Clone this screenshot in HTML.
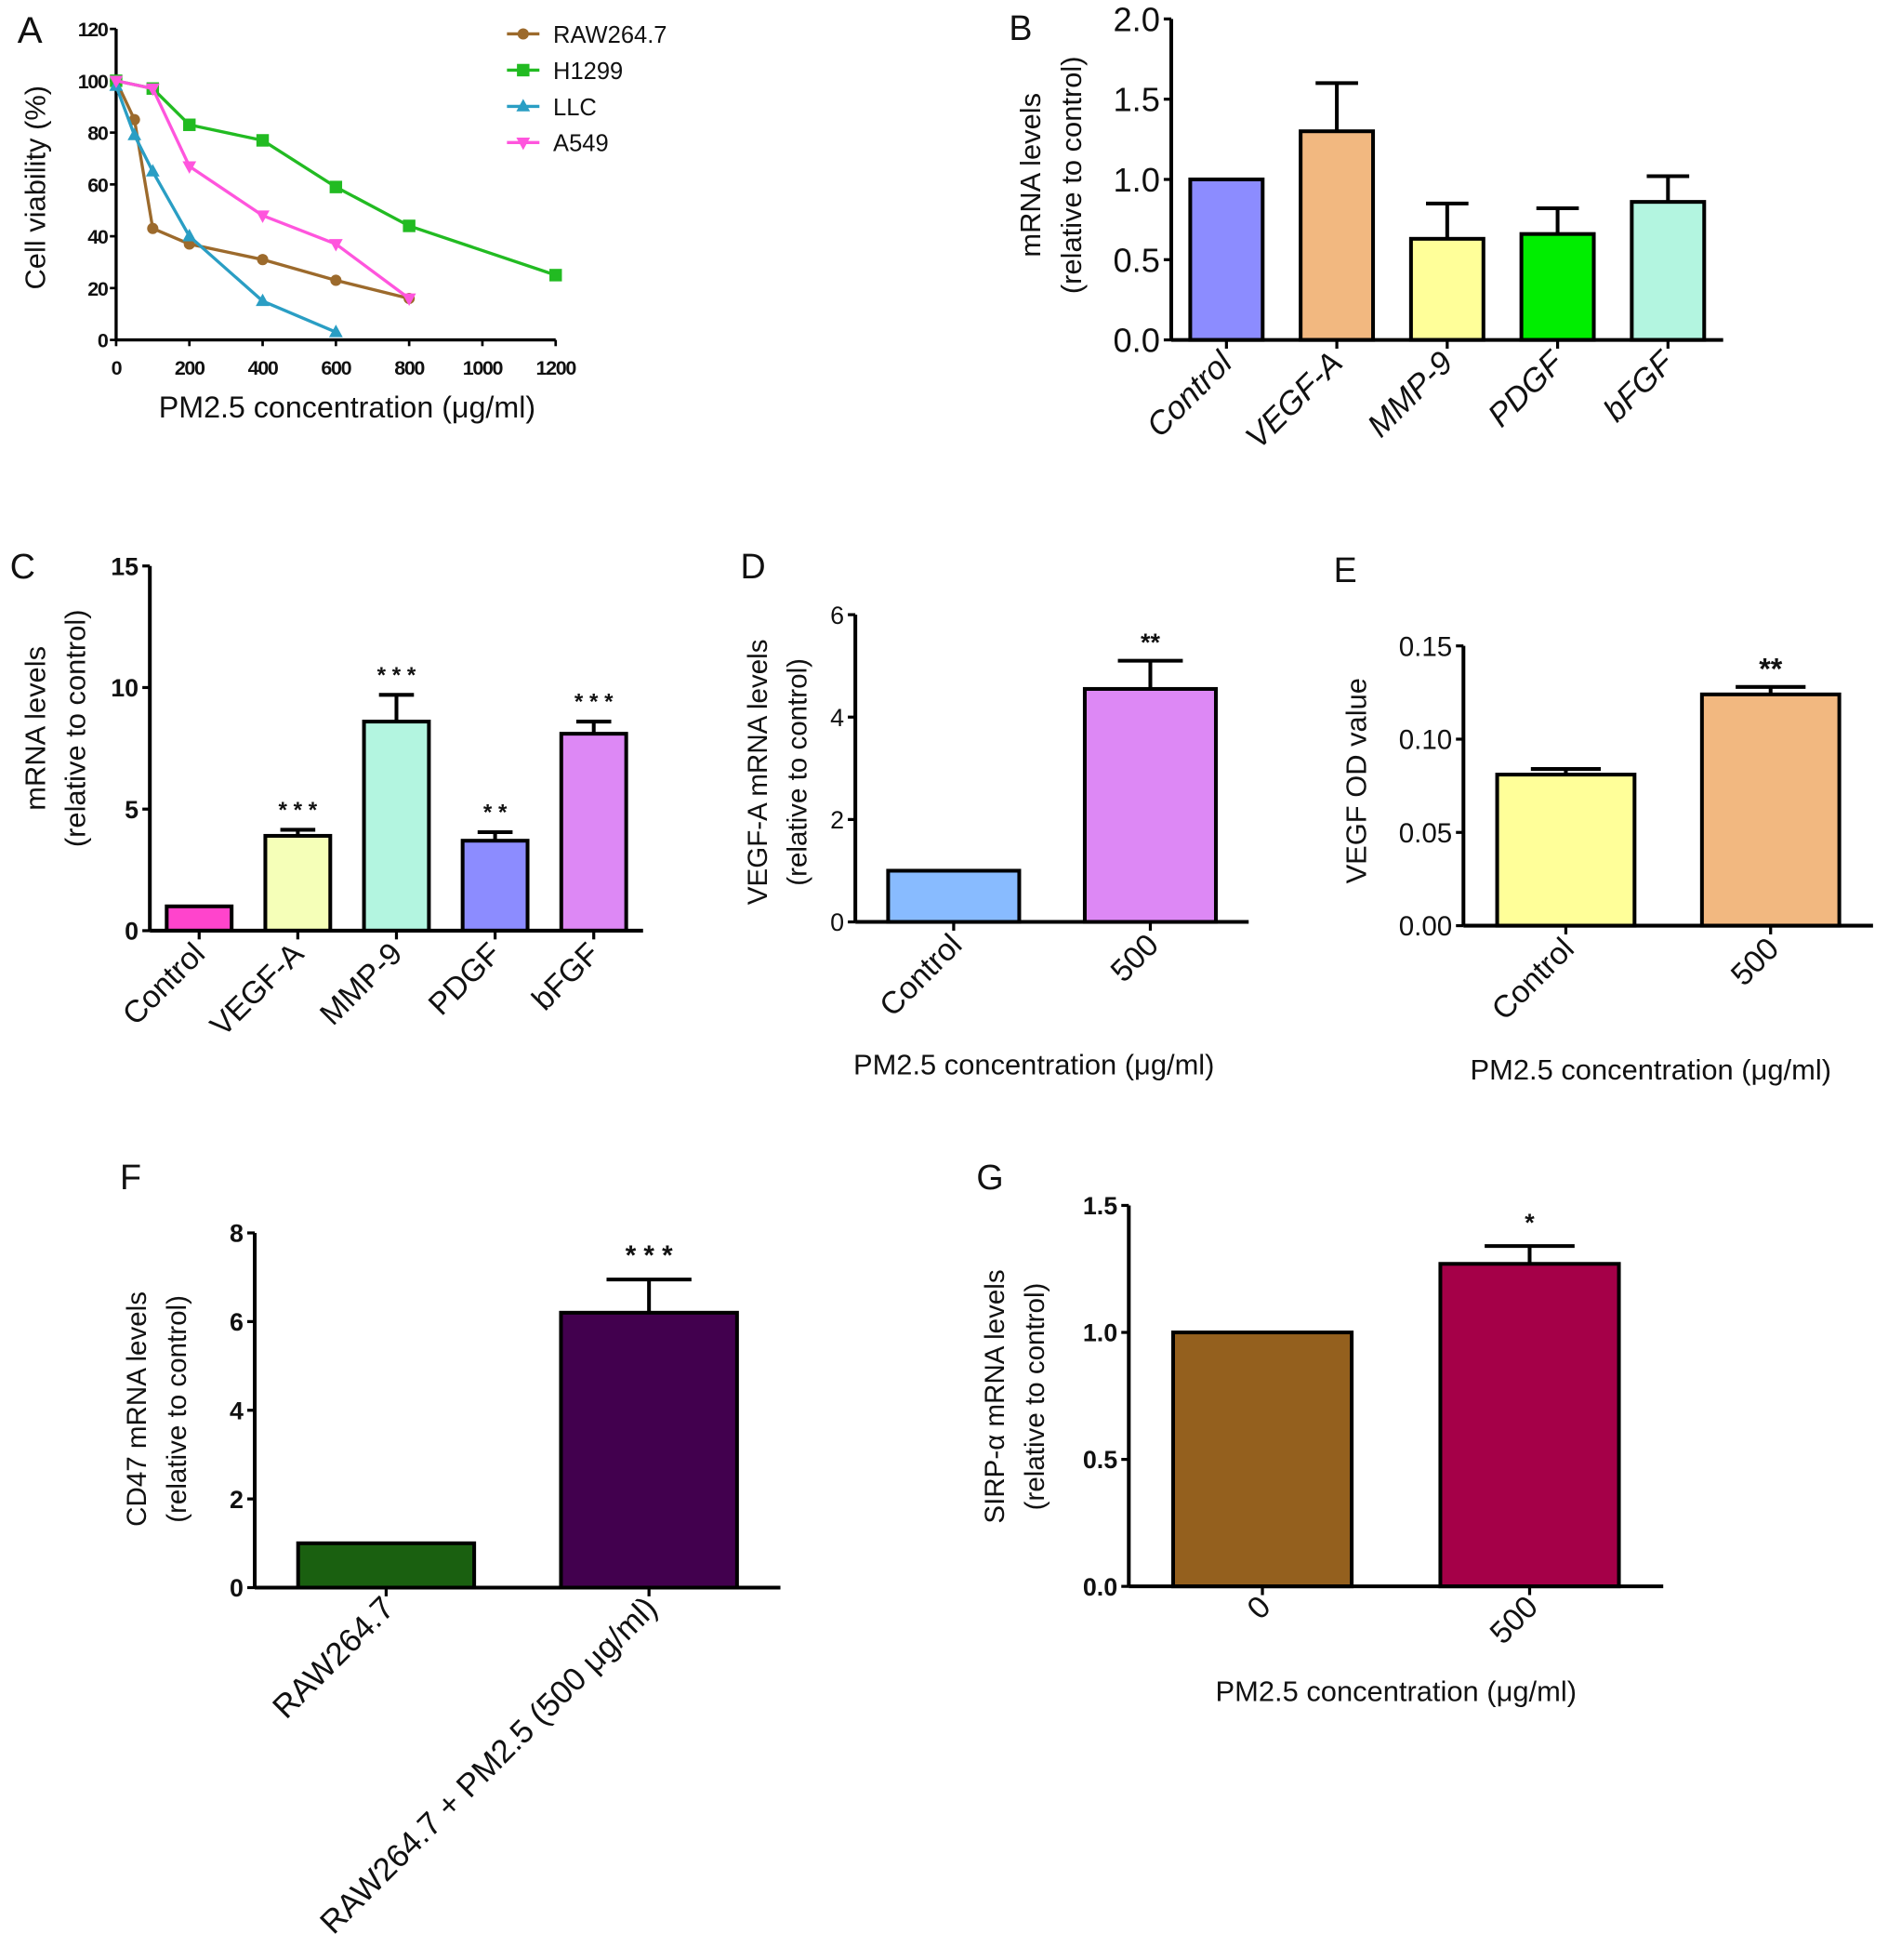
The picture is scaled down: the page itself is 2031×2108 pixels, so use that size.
<!DOCTYPE html>
<html><head><meta charset="utf-8"><style>
html,body{margin:0;padding:0;background:#fff;}
svg{display:block;}
text{font-family:"Liberation Sans",sans-serif;fill:#111;}
</style></head><body>
<svg id="fig" xmlns="http://www.w3.org/2000/svg" width="2031" height="2108" viewBox="0 0 1512 1569"></svg>
<script>
// ---- Panel A data ----
const aXTicks = [0,200,400,600,800,1000,1200];
const aYTicks = [0,20,40,60,80,100,120];
const aSeriesNames = ["RAW264.7","H1299","LLC","A549"];
const aRawX = [0,50,100,200,400,600,800];
const aRawY = [100,85,43,37,31,23,16];
const aH1299X = [0,100,200,400,600,800,1200];
const aH1299Y = [100,97,83,77,59,44,25];
const aLlcX = [0,50,100,200,400,600];
const aLlcY = [98,79,65,40,15,3];
const aA549X = [0,100,200,400,600,800];
const aA549Y = [100,97,67,48,37,16];
// ---- Panel B ----
const bCats = ["Control","VEGF-A","MMP-9","PDGF","bFGF"];
const bVals = [1.0,1.3,0.63,0.66,0.86];
const bErrs = [1.0,1.6,0.85,0.82,1.02];
const bTicks = ["0.0","0.5","1.0","1.5","2.0"];
// ---- Panel C ----
const cCats = ["Control","VEGF-A","MMP-9","PDGF","bFGF"];
const cVals = [1.0,3.9,8.6,3.7,8.1];
const cErrs = [1.0,4.15,9.7,4.05,8.6];
const cStars = ["","* * *","* * *","* *","* * *"];
const cTicks = ["0","5","10","15"];
// ---- Panel D ----
const dCats = ["Control","500"];
const dVals = [1.0,4.55];
const dErrs = [1.0,5.1];
const dStars = ["","**"];
const dTicks = ["0","2","4","6"];
// ---- Panel E ----
const eCats = ["Control","500"];
const eVals = [0.081,0.124];
const eErrs = [0.084,0.128];
const eStars = ["","**"];
const eTicks = ["0.00","0.05","0.10","0.15"];
// ---- Panel F ----
const fCats = ["RAW264.7","RAW264.7 + PM2.5 (500 μg/ml)"];
const fVals = [1.0,6.2];
const fErrs = [1.0,6.95];
const fStars = ["","* * *"];
const fTicks = ["0","2","4","6","8"];
// ---- Panel G ----
const gCats = ["0","500"];
const gVals = [1.0,1.27];
const gErrs = [1.0,1.34];
const gStars = ["","*"];
const gTicks = ["0.0","0.5","1.0","1.5"];

const NS="http://www.w3.org/2000/svg";
const svg=document.getElementById('fig');
function mk(tag,attrs,parent){const e=document.createElementNS(NS,tag);for(const k in attrs)e.setAttribute(k,attrs[k]);(parent||svg).appendChild(e);return e;}
function txt(s,attrs,parent){const t=mk('text',attrs,parent);t.textContent=s;return t;}

function lbl(s,x,y,size){
  const t=txt(s,{x:x,y:y,'font-size':size});
  
  
}
function ytitle(lines,x,cy,size,gap){
  lines.forEach((s,i)=>{
    const xx=x+i*gap;
    const t=txt(s,{x:xx,y:cy,'font-size':size,'text-anchor':'middle',transform:`rotate(-90 ${xx} ${cy})`});
    
    
  });
}
function xtitle(s,x,y,size){
  const t=txt(s,{x:x,y:y,'font-size':size,'text-anchor':'middle'});
  
  
}

function barChart(p,cats,vals,errs,colors,stars,ticks){
  const g=mk('g',{});
  
  
  const y=v=>p.y0-(v-p.min)/(p.max-p.min)*(p.y0-p.y1);
  const n=cats.length;
  const step=(p.xEnd-p.x0-p.pad*2)/n;
  const cx=i=>p.x0+p.pad+step*(i+0.5);
  cats.forEach((c,i)=>{
    const top=y(vals[i]);
    if(errs[i]>vals[i]){
      const ey=y(errs[i]);
      const e1=mk('line',{x1:cx(i),x2:cx(i),y1:top,y2:ey,stroke:'#000','stroke-width':p.sw},g);
      
      
      const e2=mk('line',{x1:cx(i)-p.cap,x2:cx(i)+p.cap,y1:ey,y2:ey,stroke:'#000','stroke-width':p.sw},g);
      
      
    }
    const r=mk('rect',{x:cx(i)-p.bw/2,y:top,width:p.bw,height:p.y0-top,fill:colors[i],stroke:'#000','stroke-width':p.sw},g);
    
    
    if(stars&&stars[i]){
      const st=txt(stars[i],{x:cx(i),y:y(errs[i])-p.starOff,'font-size':p.starSize,'text-anchor':'middle','font-weight':'bold',fill:p.starColor||'#222'},g);
      
      
    }
    const tk=mk('line',{x1:cx(i),x2:cx(i),y1:p.y0,y2:p.y0+7,stroke:'#000','stroke-width':p.sw*0.8},g);
    
    
    const lx=cx(i)+p.lx, ly=p.y0+p.ly;
    const t=txt(c,{x:lx,y:ly,'font-size':p.catSize,'text-anchor':'end',transform:`rotate(-45 ${lx} ${ly})`,'font-style':p.italic?'italic':'normal'},g);
    
    
  });
  const ya=mk('line',{x1:p.x0,x2:p.x0,y1:p.y1,y2:p.y0,stroke:'#000','stroke-width':p.sw},g);
  
  
  const xa=mk('line',{x1:p.x0,x2:p.xEnd,y1:p.y0,y2:p.y0,stroke:'#000','stroke-width':p.sw},g);
  
  
  ticks.forEach(s=>{
    const v=parseFloat(s), yy=y(v);
    const tl=mk('line',{x1:p.x0-6,x2:p.x0,y1:yy,y2:yy,stroke:'#000','stroke-width':p.sw*0.8},g);
    
    
    const t=txt(s,{x:p.x0-9,y:yy+p.tickSize*0.36,'font-size':p.tickSize,'text-anchor':'end','font-weight':p.tickBold?'bold':'normal'},g);
    
    
  });
}

(function(){
  const x0=93,xE=445,y0=272,y1=23;
  const sx=v=>x0+v/1200*(xE-x0);
  const sy=v=>y0-v/120*(y0-y1);
  const g=mk('g',{});
  
  
  const ya=mk('line',{x1:x0,x2:x0,y1:y1,y2:y0,stroke:'#000','stroke-width':2.5},g);
  
  
  const xa=mk('line',{x1:x0,x2:xE,y1:y0,y2:y0,stroke:'#000','stroke-width':2.5},g);
  
  
  aYTicks.forEach(v=>{
    const tl=mk('line',{x1:x0-5,x2:x0,y1:sy(v),y2:sy(v),stroke:'#000','stroke-width':2},g);
    
    
    const t=txt(String(v),{x:x0-7,y:sy(v)+6,'font-size':16,'font-weight':'bold','text-anchor':'end','letter-spacing':'-1'},g);
    
    
  });
  aXTicks.forEach(v=>{
    const tl=mk('line',{x1:sx(v),x2:sx(v),y1:y0,y2:y0+5,stroke:'#000','stroke-width':2},g);
    
    
    const t=txt(String(v),{x:sx(v),y:y0+28,'font-size':16,'font-weight':'bold','text-anchor':'middle','letter-spacing':'-1'},g);
    
    
  });
  const series=[[aRawX,aRawY,'#9c6a2c','circle'],[aH1299X,aH1299Y,'#22bb22','square'],[aLlcX,aLlcY,'#2a9ec4','tri'],[aA549X,aA549Y,'#ff55dd','tridown']];
  function marker(kind,x,y,c,parent){
    let m;
    if(kind==='circle') m=mk('circle',{cx:x,cy:y,r:4.5,fill:c},parent);
    else if(kind==='square') m=mk('rect',{x:x-5,y:y-5,width:10,height:10,fill:c},parent);
    else if(kind==='tri') m=mk('polygon',{points:`${x},${y-6} ${x-5.5},${y+4} ${x+5.5},${y+4}`,fill:c},parent);
    else m=mk('polygon',{points:`${x},${y+6} ${x-5.5},${y-4} ${x+5.5},${y-4}`,fill:c},parent);
    return m;
  }
  series.forEach((s,k)=>{
    const [xs,ys,c,kind]=s;
    const pl=mk('polyline',{points:xs.map((v,i)=>sx(v)+','+sy(ys[i])).join(' '),fill:'none',stroke:c,'stroke-width':2.5},g);
    
    
    xs.forEach((v,i)=>{
      const m=marker(kind,sx(v),sy(ys[i]),c,g);
      
      
    });
    const ly=27+k*29;
    const ll=mk('line',{x1:406,x2:432,y1:ly,y2:ly,stroke:c,'stroke-width':2.5},g);
    
    
    const lm=marker(kind,419,ly,c,g);
    
    
    const lt=txt(aSeriesNames[k],{x:443,y:ly+7,'font-size':19},g);
    
    
  });
})();
lbl('A',14,34,30);
ytitle(['Cell viability (%)'],36,150,23,0);
xtitle('PM2.5 concentration (μg/ml)',278,334,24);

barChart({id:'b',x0:938,xEnd:1380,y0:272,y1:15,min:0,max:2,pad:0,bw:58,cap:17,sw:3,tickSize:27,catSize:26,italic:true,lx:6,ly:20},
  bCats,bVals,bErrs,['#8c8cff','#f2b880','#ffff99','#00ee00','#b3f5e0'],null,bTicks);
lbl('B',808,32,28);
ytitle(['mRNA levels','(relative to control)'],833,140,23,33);

barChart({id:'c',x0:120,xEnd:515,y0:745,y1:453,min:0,max:15,pad:0,bw:52,cap:14,sw:3,tickSize:20,tickBold:true,catSize:25,lx:6,ly:20,starOff:10,starSize:18},
  cCats,cVals,cErrs,['#ff44cc','#f5ffb8','#b3f5e0','#8c8cff','#dd88f5'],cStars,cTicks);
lbl('C',8,463,28);
ytitle(['mRNA levels','(relative to control)'],36,583,23,32);

barChart({id:'d',x0:685,xEnd:1000,y0:738,y1:492,min:0,max:6,pad:0,bw:105,cap:26,sw:3,tickSize:20,catSize:25,lx:8,ly:20,starOff:8,starSize:20,starColor:'#777'},
  dCats,dVals,dErrs,['#88bbff','#dd88f5'],dStars,dTicks);
lbl('D',593,463,28);
ytitle(['VEGF-A mRNA levels','(relative to control)'],614,618,22,32);
xtitle('PM2.5 concentration (μg/ml)',828,860,23);

barChart({id:'e',x0:1172,xEnd:1500,y0:741,y1:517,min:0,max:0.15,pad:0,bw:110,cap:28,sw:3,tickSize:22,catSize:25,lx:8,ly:20,starOff:6,starSize:24},
  eCats,eVals,eErrs,['#ffff99','#f2b880'],eStars,eTicks);
lbl('E',1068,466,28);
ytitle(['VEGF OD value'],1094,625,23,0);
xtitle('PM2.5 concentration (μg/ml)',1322,864,23);

barChart({id:'f',x0:204,xEnd:625,y0:1271,y1:987,min:0,max:8,pad:0,bw:141,cap:34,sw:3,tickSize:20,tickBold:true,catSize:26,lx:8,ly:18,starOff:12,starSize:22},
  fCats,fVals,fErrs,['#1a6010','#42004e'],fStars,fTicks);
lbl('F',96,952,28);
ytitle(['CD47 mRNA levels','(relative to control)'],117,1128,22,32);

barChart({id:'g',x0:904,xEnd:1332,y0:1270,y1:965,min:0,max:1.5,pad:0,bw:143,cap:36,sw:3,tickSize:20,tickBold:true,catSize:25,lx:8,ly:18,starOff:12,starSize:20},
  gCats,gVals,gErrs,['#94601e','#a50048'],gStars,gTicks);
lbl('G',782,952,28);
ytitle(['SIRP-α mRNA levels','(relative to control)'],804,1118,22,32);
xtitle('PM2.5 concentration (μg/ml)',1118,1362,23);
</script>
</body></html>
